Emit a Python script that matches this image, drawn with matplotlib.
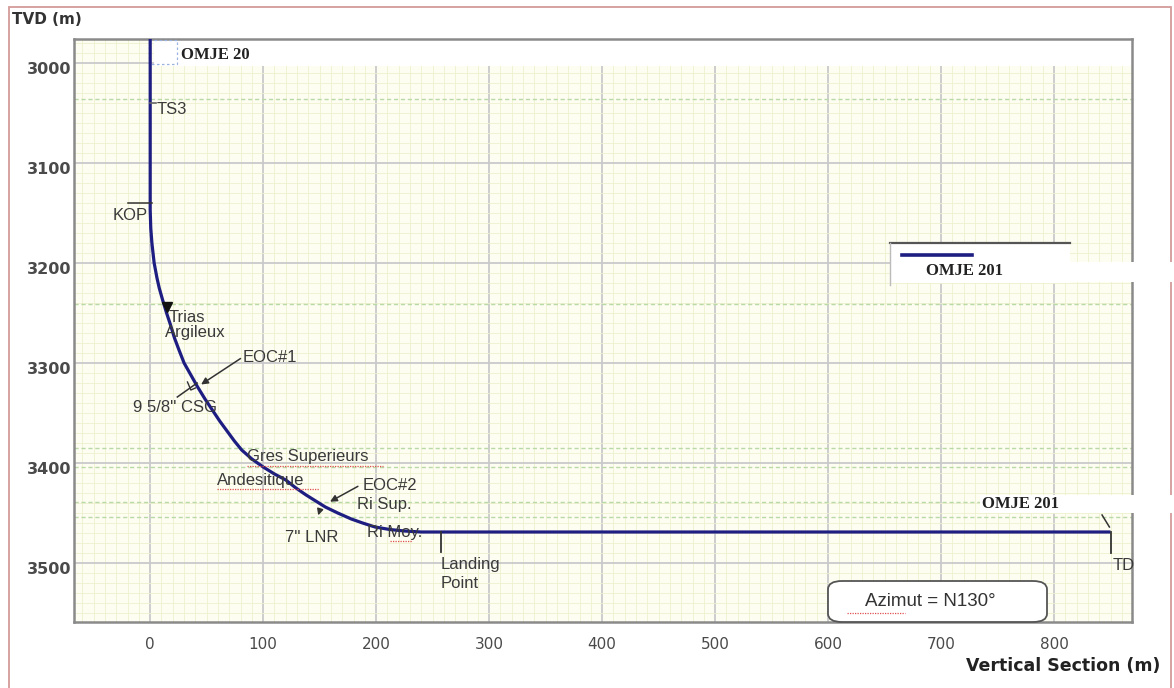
import matplotlib
matplotlib.use("Agg")
import matplotlib.pyplot as plt
from matplotlib.patches import Rectangle, FancyBboxPatch
from matplotlib.lines import Line2D
import matplotlib.transforms as mtransforms

# ---------------- data ----------------
vs = [0, 0, 0.5, 1.5, 3.5, 6, 8, 11, 14.5, 18,
      21.5, 25.5, 30, 36, 42, 48.5, 55, 61.5, 68, 74.5,
      81, 90, 100, 110, 120, 129, 138, 146.5, 155, 166,
      178, 188, 199, 212, 225, 240, 255, 850]
tvd = [2976, 3147, 3165, 3180, 3200, 3215, 3225, 3237, 3250, 3262,
       3275, 3287, 3300, 3312, 3324, 3336, 3347, 3358, 3368, 3378,
       3387, 3396, 3404, 3411, 3417, 3425, 3432, 3438, 3444, 3450,
       3456, 3460, 3464, 3466.5, 3468, 3469, 3469, 3469]

formation_tops = [3036, 3241, 3385, 3404, 3439, 3454]

x_ticks = [0, 100, 200, 300, 400, 500, 600, 700, 800]
y_ticks = [3000, 3100, 3200, 3300, 3400, 3500]

well_name = "OMJE 201"
kop_vs, kop_tvd = 0, 3147
landing_vs, landing_tvd = 255, 3469
td_vs, td_tvd = 850, 3469

# ---------------- figure ----------------
W, H = 1174, 688
fig = plt.figure(figsize=(W / 100, H / 100), dpi=100)
fig.patch.set_facecolor("white")

def fx(px):
    return px / W

def fy(py):
    return 1 - py / H

ax = fig.add_axes([fx(74.5), fy(622), fx(1132) - fx(74.5), fy(39) - fy(622)])
ax.set_xlim(-67, 869)
ax.set_ylim(3559, 2976)
ax.set_facecolor("#fdfdf1")

# grids
ax.set_xticks(x_ticks)
ax.set_yticks(y_ticks)
ax.set_xticks(range(-60, 870, 10), minor=True)
ax.set_yticks(range(2980, 3560, 10), minor=True)
ax.grid(True, which="minor", color="#eef0cf", lw=0.6, zorder=0)
ax.grid(True, which="major", color="#c9c9cc", lw=1.3, zorder=1)
ax.set_axisbelow(True)
ax.tick_params(which="both", length=0)
ax.tick_params(axis="x", pad=11, labelsize=11, labelcolor="#4a4a4a")
ax.tick_params(axis="y", pad=2, labelsize=11.5, labelcolor="#4a4a4a")
for lbl in ax.get_yticklabels():
    lbl.set_fontweight("bold")
    lbl.set_transform(lbl.get_transform() + mtransforms.ScaledTranslation(0, -0.05, fig.dpi_scale_trans))
for sp in ax.spines.values():
    sp.set_color("#8a8a8a")
    sp.set_linewidth(1.8)

# formation top dashed lines
for t in formation_tops:
    ax.axhline(t, color="#b9d9a6", lw=1.0, ls=(0, (3, 2)), zorder=1.5)

# white band at top of plot
ax.add_patch(Rectangle((3, 2976), 866, 27, facecolor="white", edgecolor="none", zorder=2))
ax.add_patch(Rectangle((-1.5, 2977), 25, 24, facecolor="none", edgecolor="#9bb3e0", lw=0.9,
                       ls=(0, (2, 2)), zorder=3))
ax.text(27, 2992, "OMJE 20", family="Liberation Serif", fontweight="bold", fontsize=12,
        color="#222222", va="center", ha="left", zorder=4)

# trajectory
ax.plot(vs, tvd, color="#1e1e82", lw=2.3, zorder=5, solid_capstyle="butt", solid_joinstyle="round")

txt = dict(family="Liberation Sans", fontsize=12, color="#3a3a3a", zorder=6)
lc = "#333333"

# TS3
ax.plot([0, 5], [3040, 3040], color="#666666", lw=1.2, zorder=6)
ax.text(6, 3047, "TS3", va="center", ha="left", **txt)
# KOP
ax.plot([-19.5, 1.5], [kop_tvd - 7, kop_tvd - 7], color=lc, lw=1.1, zorder=6)
ax.text(-2, kop_tvd + 5, "KOP", va="center", ha="right", **txt)
# Trias
ax.plot([15], [3244], marker="v", color="#111111", ms=7, zorder=7)
ax.text(16, 3254, "Trias", va="center", ha="left", **txt)
ax.text(13, 3270, "Argileux", va="center", ha="left", **txt)
# EOC#1
ax.annotate("", xy=(43, 3323), xytext=(82, 3294),
            arrowprops=dict(arrowstyle="-|>", color=lc, lw=1.1, mutation_scale=10), zorder=6)
ax.text(82, 3295, "EOC#1", va="center", ha="left", **txt)
# 9 5/8" CSG
ax.plot([24, 41.5], [3334, 3320], color=lc, lw=1.1, zorder=6)
ax.plot([33, 36, 40], [3319, 3327, 3325], color=lc, lw=1.0, zorder=6)
ax.text(-15, 3344, "9 5/8'' CSG", va="center", ha="left", **txt)
# Gres Superieurs / Andesitique
ax.text(86, 3394, "Gres Superieurs", va="center", ha="left", **txt)
ax.text(59.5, 3417, "Andesitique", va="center", ha="left", **txt)
ax.plot([86, 206], [3403, 3403], color="#e05050", lw=0.9, ls=(0, (1, 1)), zorder=6)
ax.plot([59.5, 149], [3426, 3426], color="#e05050", lw=0.9, ls=(0, (1, 1)), zorder=6)
# EOC#2
ax.annotate("", xy=(157, 3440), xytext=(186, 3422),
            arrowprops=dict(arrowstyle="-|>", color=lc, lw=1.1, mutation_scale=10), zorder=6)
ax.text(188, 3422, "EOC#2", va="center", ha="left", **txt)
ax.text(183, 3442, "Ri Sup.", va="center", ha="left", **txt)
# 7" LNR
ax.annotate("", xy=(148, 3455), xytext=(151, 3444),
            arrowprops=dict(arrowstyle="-|>", color=lc, lw=1.1, mutation_scale=9), zorder=6)
ax.text(119, 3474, "7'' LNR", va="center", ha="left", **txt)
ax.text(192, 3469, "Ri Moy.", va="center", ha="left", **txt)
ax.plot([212, 232], [3478, 3478], color="#e05050", lw=0.9, ls=(0, (1, 1)), zorder=6)
# Landing point
ax.plot([landing_vs + 2, landing_vs + 2], [landing_tvd, landing_tvd + 20], color=lc, lw=1.3, zorder=6)
ax.text(landing_vs + 2, 3502, "Landing", va="center", ha="left", **txt)
ax.text(landing_vs + 2, 3520, "Point", va="center", ha="left", **txt)
# TD
ax.plot([td_vs, td_vs], [td_tvd, td_tvd + 21], color=lc, lw=1.3, zorder=6)
ax.plot([td_vs - 7.5, td_vs - 1], [3452, 3464], color=lc, lw=1.1, zorder=6)
ax.text(td_vs + 2, 3502, "TD", va="center", ha="left", **txt)

# ---------------- figure-level decorations ----------------
# red page border
fig.add_artist(Rectangle((fx(9), fy(700)), fx(1171) - fx(9), fy(7) - fy(700),
                         transform=fig.transFigure, facecolor="none", edgecolor="#d49a9a", lw=1.3))

# label near TD with white band
fig.add_artist(Rectangle((fx(980), fy(513)), fx(1174) - fx(980), fy(495) - fy(513),
                         transform=fig.transFigure, facecolor="white", edgecolor="none", zorder=8))
fig.text(fx(982), fy(504), well_name, family="Liberation Serif", fontweight="bold", fontsize=12,
         color="#222222", va="center", ha="left", zorder=9)

# legend box
fig.add_artist(Rectangle((fx(890), fy(283)), fx(1070) - fx(890), fy(243) - fy(283),
                         transform=fig.transFigure, facecolor="white", edgecolor="none", zorder=8))
fig.add_artist(Rectangle((fx(1070), fy(282)), fx(1174) - fx(1070), fy(262) - fy(282),
                         transform=fig.transFigure, facecolor="white", edgecolor="none", zorder=8))
fig.add_artist(Line2D([fx(890), fx(1070)], [fy(243), fy(243)], transform=fig.transFigure,
                      color="#555555", lw=1.6, zorder=9))
fig.add_artist(Line2D([fx(890), fx(890)], [fy(243), fy(285)], transform=fig.transFigure,
                      color="#bbbbbb", lw=1.0, zorder=9))
fig.add_artist(Line2D([fx(902), fx(972)], [fy(255), fy(255)], transform=fig.transFigure,
                      color="#1e1e82", lw=2.6, zorder=9))
fig.text(fx(926), fy(271), well_name, family="Liberation Serif", fontweight="bold", fontsize=12,
         color="#222222", va="center", ha="left", zorder=10)

# azimuth box
fig.add_artist(FancyBboxPatch((fx(828), fy(622)), fx(1047) - fx(828), fy(581) - fy(622),
                              boxstyle="round,pad=0,rounding_size=0.012", transform=fig.transFigure,
                              facecolor="white", edgecolor="#555555", lw=1.3, zorder=8))
fig.text(fx(930), fy(602), "Azimut = N130°", family="Liberation Sans", fontsize=13.5,
         color="#333333", va="center", ha="center", zorder=9)
fig.add_artist(Line2D([fx(847), fx(905)], [fy(613), fy(613)], transform=fig.transFigure,
                      color="#e05050", lw=0.9, ls=(0, (1, 1)), zorder=9))

# axis titles
fig.text(fx(12), fy(20), "TVD (m)", fontweight="bold", fontsize=11, color="#333333",
         va="center", ha="left")
fig.text(fx(1160), fy(666), "Vertical Section (m)", fontweight="bold", fontsize=12.5,
         color="#222222", va="center", ha="right")

fig.savefig("out.png", dpi=100)
